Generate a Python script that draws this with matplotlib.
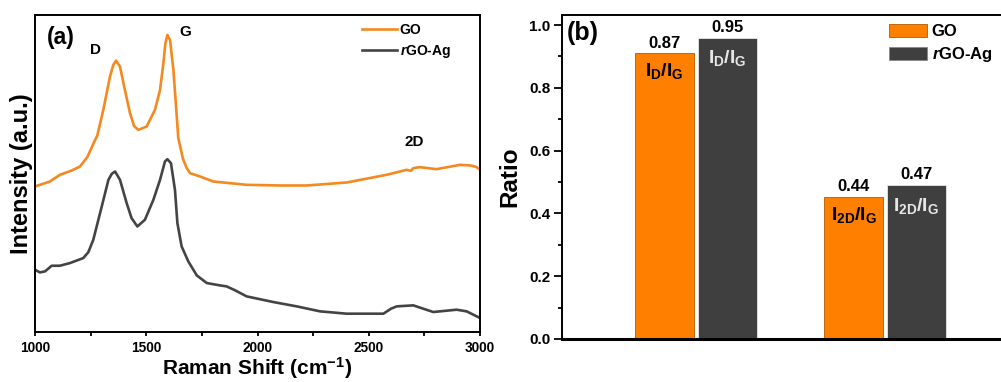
import numpy as np
import matplotlib
matplotlib.use("Agg")
import matplotlib.pyplot as plt
from matplotlib.lines import Line2D
from matplotlib.patches import Patch
from matplotlib.ticker import MultipleLocator

plt.rcParams["font.family"] = ["Liberation Sans", "DejaVu Sans"]
plt.rcParams["font.weight"] = "bold"
plt.rcParams["mathtext.fontset"] = "custom"
plt.rcParams["mathtext.rm"] = "Liberation Sans:bold"
plt.rcParams["mathtext.it"] = "Liberation Sans:italic:bold"
plt.rcParams["mathtext.bf"] = "Liberation Sans:bold"

# ---- panel (a): Raman spectra (arbitrary units)
go_shift = [1000, 1067, 1112, 1165, 1202, 1235, 1262, 1280, 1307, 1337, 1352, 1364,
            1382, 1404, 1427, 1445, 1464, 1502, 1539, 1562, 1577, 1586, 1595, 1607,
            1622, 1634, 1644, 1650, 1665, 1682, 1697, 1742, 1801, 1951, 2100, 2221,
            2401, 2580, 2640, 2670, 2690, 2700, 2730, 2805, 2910, 2960, 2985, 3000]
go_int = [437, 452, 472, 485, 497, 525, 565, 590, 667, 767, 802, 815,
          797, 727, 657, 619, 607, 617, 667, 727, 807, 867, 892, 877,
          787, 677, 582, 565, 520, 492, 477, 467, 452, 442, 440, 440,
          449, 472, 482, 487, 484, 492, 495, 489, 502, 500, 495, 487]

rgo_shift = [1000, 1022, 1045, 1075, 1112, 1157, 1217, 1240, 1262, 1300, 1330, 1345,
             1360, 1382, 1412, 1434, 1460, 1494, 1532, 1562, 1584, 1595, 1611, 1629,
             1640, 1659, 1689, 1727, 1772, 1831, 1861, 1900, 1951, 2071, 2176, 2281,
             2401, 2566, 2600, 2626, 2700, 2790, 2895, 2940, 3000]
rgo_int = [187, 179, 182, 199, 199, 207, 222, 240, 277, 377, 457, 475,
           482, 457, 387, 342, 317, 337, 397, 457, 512, 519, 507, 427,
           327, 257, 212, 170, 147, 140, 137, 125, 107, 90, 77, 62,
           55, 55, 70, 77, 80, 60, 67, 62, 42]

# ---- panel (b): ratios
ratio_names = [r"$\mathregular{I_D/I_G}$", r"$\mathregular{I_{2D}/I_G}$"]
go_ratio = [0.91, 0.453]
rgo_ratio = [0.96, 0.49]
go_ratio_labels = ["0.87", "0.44"]
rgo_ratio_labels = ["0.95", "0.47"]

ORANGE_LINE = "#f5891f"
ORANGE_BAR = "#ff8000"
DARK = "#444444"
DARK_BAR = "#3f3f3f"

W, H = 1001, 382
fig = plt.figure(figsize=(W / 100, H / 100), dpi=100, facecolor="white")


def px_axes(l, t, r, b):
    return fig.add_axes([l / W, 1 - b / H, (r - l) / W, (b - t) / H])


# ---------------- (a)
ax = px_axes(35, 15, 480, 332)
ax.plot(go_shift, go_int, color=ORANGE_LINE, lw=1.9, solid_joinstyle="round")
ax.plot(rgo_shift, rgo_int, color=DARK, lw=1.9, solid_joinstyle="round")
ax.set_xlim(1000, 3000)
ax.set_ylim(0, 952)
ax.set_yticks([])
ax.xaxis.set_major_locator(MultipleLocator(500))
ax.xaxis.set_minor_locator(MultipleLocator(250))
ax.tick_params(axis="x", which="both", direction="out", length=3, width=1.3,
               labelsize=9.8, pad=3.5)
for lab in ax.get_xticklabels():
    lab.set_fontweight("bold")
for s in ax.spines.values():
    s.set_linewidth(1.4)
ax.set_xlabel(r"Raman Shift (cm$^{\mathregular{-1}}$)", fontsize=15, fontweight="bold",
              va="center")
ax.xaxis.set_label_coords(0.5, -(368 - 332) / 317)
ax.set_ylabel("Intensity (a.u.)", fontsize=17, fontweight="bold", va="center")
ax.yaxis.set_label_coords((22 - 35) / 445, 0.5)
ax.text(1117, 885, "(a)", fontsize=16.5, fontweight="bold", ha="center", va="center")
ax.text(1270, 846, "D", fontsize=11, fontweight="bold", ha="center", va="center")
ax.text(1674, 900, "G", fontsize=11, fontweight="bold", ha="center", va="center")
ax.text(2703, 570, "2D", fontsize=11, fontweight="bold", ha="center", va="center")
handles = [Line2D([], [], color=ORANGE_LINE, lw=1.9),
           Line2D([], [], color=DARK, lw=1.9)]
ax.legend(handles, ["GO", r"$\mathit{r}$GO-Ag"], loc="upper left",
          bbox_to_anchor=(362 / W, 1 - 23 / H), bbox_transform=fig.transFigure,
          frameon=False, fontsize=10, borderaxespad=0, borderpad=0,
          handlelength=2.5, handletextpad=0.2, labelspacing=0.4)

# ---------------- (b)
bx = px_axes(562, 15, 1010, 339)
pos = np.arange(1, len(ratio_names) + 1)
wd = 0.31
off = 0.166
bx.bar(pos - off, go_ratio, wd, color=ORANGE_BAR, edgecolor="#b55a00", lw=0.6)
bx.bar(pos + off, rgo_ratio, wd, color=DARK_BAR, edgecolor="#e8e8e8", lw=0.6)
for x, h, t in zip(pos - off, go_ratio, go_ratio_labels):
    bx.annotate(t, (x, h), xytext=(0, 2), textcoords="offset points",
                ha="center", va="bottom", fontsize=12, fontweight="bold")
for x, h, t in zip(pos + off, rgo_ratio, rgo_ratio_labels):
    bx.annotate(t, (x, h), xytext=(0, 2), textcoords="offset points",
                ha="center", va="bottom", fontsize=12, fontweight="bold")
for x, h, t in zip(pos - off, go_ratio, ratio_names):
    bx.annotate(t, (x, h), xytext=(0, -13), textcoords="offset points",
                ha="center", va="center", fontsize=14, color="black")
for x, h, t in zip(pos + off, rgo_ratio, ratio_names):
    bx.annotate(t, (x, h), xytext=(0, -15), textcoords="offset points",
                ha="center", va="center", fontsize=14, color="#e6e6e6")
bx.set_xlim(0.291, 2.661)
bx.set_ylim(0, 1.032)
bx.set_xticks([])
bx.yaxis.set_major_locator(MultipleLocator(0.2))
bx.yaxis.set_minor_locator(MultipleLocator(0.1))
bx.yaxis.set_major_formatter(plt.FormatStrFormatter("%.1f"))
bx.tick_params(axis="y", which="major", direction="out", length=5.8, width=1.3,
               labelsize=11, pad=2.5)
bx.tick_params(axis="y", which="minor", direction="out", length=3, width=1.3)
for lab in bx.get_yticklabels():
    lab.set_fontweight("bold")
for s in bx.spines.values():
    s.set_linewidth(1.4)
bx.spines["bottom"].set_linewidth(2.2)
bx.set_ylabel("Ratio", fontsize=17.5, fontweight="bold", va="center")
bx.yaxis.set_label_coords((510 - 562) / 448, 0.5)
fig.text(583 / W, 1 - 33 / H, "(b)", fontsize=18, fontweight="bold",
         ha="center", va="center")
phandles = [Patch(facecolor=ORANGE_BAR, edgecolor="#b55a00", lw=0.6),
            Patch(facecolor=DARK_BAR, edgecolor="#888888", lw=0.6)]
fig.legend(phandles, ["GO", r"$\mathit{r}$GO-Ag"], loc="upper left",
           bbox_to_anchor=(889 / W, 1 - 24 / H), frameon=False, fontsize=12,
           borderaxespad=0, borderpad=0,
           handlelength=2.27, handleheight=0.84, handletextpad=0.3, labelspacing=0.36)

fig.savefig("out.png", dpi=100, facecolor="white")
